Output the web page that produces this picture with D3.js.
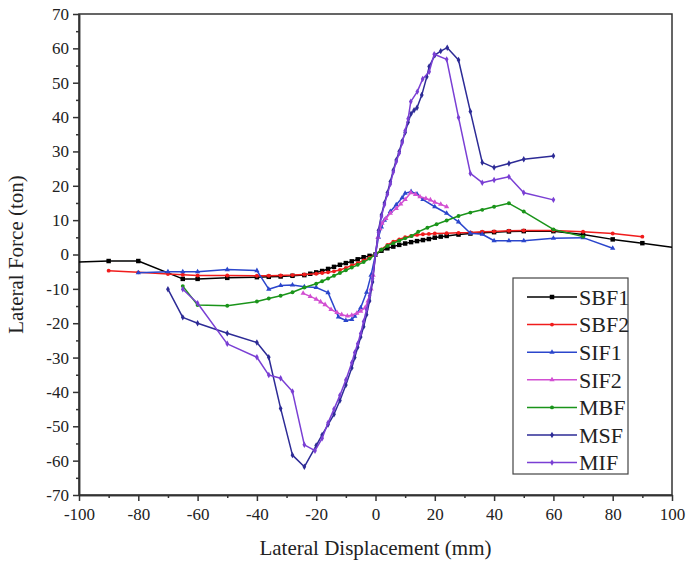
<!DOCTYPE html>
<html>
<head>
<meta charset="utf-8">
<script src="https://cdn.jsdelivr.net/npm/d3@7"></script>
<style>
  body { margin: 0; background: #fff; }
  svg text { font-family: "Liberation Serif", serif; fill: #222; }
</style>
</head>
<body>
<div id="chart"></div>
<script>
// Data: [displacement mm, force ton]
const SBF1 = [[-100,-2.2],[-90,-1.9],[-80,-1.9],[-65,-7.1],[-60,-7.1],[-50,-6.8],[-40,-6.6],[-36,-6.5],[-32,-6.4],[-28,-6.2],[-24,-6],[-22,-5.6],[-20,-5.2],[-18,-4.8],[-16,-4.2],[-14,-3.6],[-12,-3],[-10,-2.5],[-8,-2],[-6,-1.4],[-4,-0.8],[-2,-0.4],[0,0],[2,1.1],[4,1.8],[6,2.3],[8,2.8],[10,3.2],[12,3.6],[14,3.9],[16,4.2],[18,4.5],[20,4.9],[22,5.2],[24,5.4],[28,5.8],[32,6.1],[36,6.3],[40,6.5],[45,6.7],[50,6.8],[60,6.8],[70,5.8],[80,4.4],[90,3.3],[100,2.1]];
const SBF2 = [[-90,-4.7],[-80,-5.2],[-70,-5.7],[-65,-5.9],[-60,-6.1],[-50,-6.1],[-40,-6.2],[-36,-6.2],[-32,-6.1],[-28,-6],[-24,-5.8],[-20,-5.6],[-18,-5.4],[-16,-5.2],[-14,-4.9],[-12,-4.5],[-10,-3.9],[-8,-3.2],[-6,-2.5],[-4,-1.7],[-2,-0.9],[0,0],[2,1.5],[4,2.8],[6,3.7],[8,4.4],[10,5],[12,5.4],[14,5.7],[16,5.9],[18,6],[20,6.1],[24,6.2],[28,6.3],[32,6.4],[36,6.6],[40,6.7],[45,6.9],[50,7],[60,7],[70,6.6],[80,6.1],[90,5.2]];
const SIF1 = [[-80,-5.3],[-70,-5],[-65,-5],[-60,-5],[-50,-4.4],[-40,-4.7],[-36,-10.1],[-32,-9],[-28,-8.9],[-24,-9.4],[-20,-9.6],[-16,-11.1],[-12.5,-18.2],[-10,-19.2],[-8,-18.9],[-7,-18],[-5,-15.5],[-3,-11],[-1.5,-6],[0,0],[1,5],[2,8],[3,10],[5,12.5],[7,14.5],[9,16.5],[10,17.8],[12,18.3],[14,17.6],[16,16],[20,13.9],[24,12],[28,9.5],[32,6.2],[36,5.9],[40,4],[45,4],[50,4],[60,4.7],[70,4.9],[80,1.8]];
const SIF2 = [[-24.4,-11.3],[-22,-12.2],[-20,-13],[-18.5,-13.8],[-17,-14.6],[-15,-16],[-13,-16.9],[-11.4,-17.5],[-9.5,-17.9],[-8,-17.7],[-6.3,-17.1],[-5,-16.5],[-3.5,-15.5],[-2.5,-13.5],[-1.5,-10],[-0.8,-6],[0,0],[0.8,5],[1.5,7.5],[2.2,9.1],[3.5,10.5],[5,12],[7,13.4],[8.5,14.7],[10,16],[11.9,18],[13.5,17.5],[15,16.8],[17,16.3],[18.5,15.9],[20,15.2],[22,14.6],[24,13.9]];
const MBF = [[-65,-9.2],[-60,-14.7],[-50,-14.9],[-40,-13.7],[-36,-12.8],[-32,-12],[-28,-11],[-24,-9.6],[-20,-8.5],[-18,-7.8],[-16,-7],[-14,-6.2],[-12,-5.4],[-10,-4.6],[-8,-3.8],[-6,-3],[-4,-2.2],[-2,-1.2],[0,0],[2,1.4],[4,2.5],[6,3.3],[8,4],[10,4.7],[12.2,5.4],[14.4,6.6],[17.5,7.8],[20.6,8.8],[24,9.9],[28,11.2],[32,12.2],[36,13],[40,13.9],[45,14.9],[50,12.5],[60,7.3],[70,5.2]];
const MSF = [[-70,-10.1],[-65,-18.3],[-60,-20],[-50,-22.9],[-40,-25.6],[-36,-29.9],[-32,-44.8],[-28,-58.4],[-24,-61.8],[-20,-55.6],[-18,-52.5],[-16,-49.5],[-14,-46.5],[-12,-42.5],[-10,-38],[-8,-33],[-7,-30],[-6,-27],[-5,-24],[-4,-21],[-3,-17.5],[-2,-13.5],[-1,-8],[0,0],[1,7],[2,11.5],[3,15],[4,18],[5,21.2],[6,24.5],[7,27.5],[8,30],[9,33],[10,35.5],[11,38.5],[12,41],[13,42],[14,42.7],[15.6,46.4],[17.3,51.7],[18.1,54.7],[20,58],[22,59.2],[24.2,60.2],[28,56.6],[32,41.6],[36,26.8],[40,25.3],[45,26.5],[50,27.7],[60,28.7]];
const MIF = [[-65,-10.1],[-60,-14.2],[-50,-26],[-40,-29.9],[-36,-35.1],[-32,-36],[-28,-39.9],[-24,-55.4],[-20.4,-57.1],[-18,-53.5],[-16,-49],[-14,-45],[-12,-41],[-10,-36.5],[-8,-31.5],[-7,-28.5],[-6,-26],[-5,-23],[-4,-19.5],[-3,-16],[-2,-12],[-1,-7],[0,0],[1,6.5],[2,11],[3,14.5],[4,17.5],[5,20.5],[6,24],[7,27],[8,29.5],[9,32.5],[10,36],[11,39.5],[11.9,44.5],[14.1,47.4],[15.9,51.1],[18.1,53.2],[19.8,58.3],[24,56.8],[28,39.9],[32,23.6],[36,20.9],[40,21.7],[45,22.6],[50,18],[60,15.9]];

const seriesNames = ["SBF1", "SBF2", "SIF1", "SIF2", "MBF", "MSF", "MIF"];
const seriesData = [SBF1, SBF2, SIF1, SIF2, MBF, MSF, MIF];
const seriesColors = ["#000000", "#f01c1c", "#2b46cc", "#d24fd2", "#1a941a", "#2d2b96", "#7a3fd4"];
const seriesSymbols = [d3.symbolSquare, d3.symbolCircle, d3.symbolTriangle, d3.symbolTriangle, d3.symbolCircle, d3.symbolDiamond, d3.symbolDiamond];

const xTicks = d3.range(-100, 101, 20);
const yTicks = d3.range(-70, 71, 10);

const svgWidth = 686;
const svgHeight = 561;
const margin = { top: 14, right: 14, bottom: 66, left: 79 };
const width = svgWidth - margin.left - margin.right;
const height = svgHeight - margin.top - margin.bottom;
const serif = "Liberation Serif";

const svg = d3.select("#chart")
  .append("svg")
  .attr("width", svgWidth)
  .attr("height", svgHeight)
  .attr("font-family", serif);

const g = svg.append("g")
  .attr("transform", `translate(${margin.left},${margin.top})`);

const x = d3.scaleLinear().domain([-100, 100]).range([0, width]);
const y = d3.scaleLinear().domain([-70, 70]).range([height, 0]);

// clip so the SBF1 tail stops at the frame
g.append("clipPath").attr("id", "clip")
  .append("rect").attr("width", width).attr("height", height);

// Frame
g.append("rect")
  .attr("width", width)
  .attr("height", height)
  .attr("fill", "none")
  .attr("stroke", "#333")
  .attr("stroke-width", 1.5);

// Axes: major ticks outward, minor ticks in between (plain hyphen for negatives)
const fmt = d => String(d);
const axes = g.append("g");
axes.append("g")
  .attr("transform", `translate(0,${height})`)
  .call(d3.axisBottom(x).tickValues(xTicks).tickFormat(fmt).tickSize(6).tickPadding(7).tickSizeOuter(0));
axes.append("g")
  .attr("transform", `translate(0,${height})`)
  .call(d3.axisBottom(x).tickValues(d3.range(-90, 100, 20)).tickSize(3).tickFormat("").tickSizeOuter(0));
axes.append("g")
  .call(d3.axisLeft(y).tickValues(yTicks).tickFormat(fmt).tickSize(6).tickPadding(4).tickSizeOuter(0));
axes.append("g")
  .call(d3.axisLeft(y).tickValues(d3.range(-65, 70, 10)).tickSize(3).tickFormat("").tickSizeOuter(0));

axes.selectAll("g").attr("font-family", serif).attr("font-size", 17);
axes.selectAll(".domain").attr("stroke", "#333").attr("stroke-width", 1.5);
axes.selectAll(".tick line").attr("stroke", "#333").attr("stroke-width", 1.5);
axes.selectAll(".tick text").attr("fill", "#222");

// Axis titles
svg.append("text")
  .attr("x", margin.left + width / 2)
  .attr("y", 555)
  .attr("text-anchor", "middle")
  .attr("font-size", 21)
  .text("Lateral Displacement (mm)");

svg.append("text")
  .attr("transform", `translate(23,${margin.top + height / 2}) rotate(-90)`)
  .attr("text-anchor", "middle")
  .attr("font-size", 21)
  .text("Lateral Force (ton)");

// Series
const line = d3.line().x(d => x(d[0])).y(d => y(d[1]));
const plot = g.append("g").attr("clip-path", "url(#clip)");

seriesData.forEach((data, i) => {
  const color = seriesColors[i];
  plot.append("path")
    .datum(data)
    .attr("fill", "none")
    .attr("stroke", color)
    .attr("stroke-width", 1.5)
    .attr("stroke-linejoin", "round")
    .attr("d", line);

  const sym = d3.symbol().type(seriesSymbols[i]).size(i === 0 ? 20 : 12);
  plot.append("g")
    .selectAll("path")
    .data(i === 0 ? data.slice(1, -1) : data)
    .join("path")
    .attr("transform", d => `translate(${x(d[0])},${y(d[1])})`)
    .attr("d", sym)
    .attr("fill", color);
});

// Legend
const legend = svg.append("g").attr("transform", "translate(513,278)");
legend.append("rect")
  .attr("width", 115)
  .attr("height", 196)
  .attr("fill", "#fff")
  .attr("stroke", "#444")
  .attr("stroke-width", 1.2);

const rows = legend.selectAll(".row")
  .data(seriesNames)
  .join("g")
  .attr("class", "row")
  .attr("transform", (d, i) => `translate(0,${19 + i * 27.6})`);

rows.append("line")
  .attr("x1", 14).attr("x2", 64)
  .attr("stroke", (d, i) => seriesColors[i])
  .attr("stroke-width", 1.5);

rows.append("path")
  .attr("transform", "translate(39,0)")
  .attr("d", (d, i) => d3.symbol().type(seriesSymbols[i]).size(i === 0 ? 20 : 12)())
  .attr("fill", (d, i) => seriesColors[i]);

rows.append("text")
  .attr("x", 66)
  .attr("dy", "0.35em")
  .attr("font-size", 22)
  .text(d => d);
</script>
</body>
</html>
